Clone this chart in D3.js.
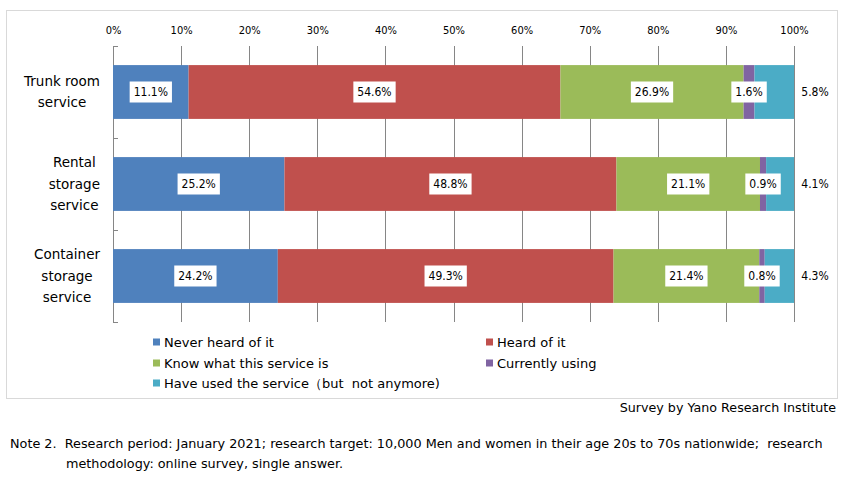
<!DOCTYPE html>
<html><head><meta charset="utf-8">
<script src="https://cdn.jsdelivr.net/npm/d3@7"></script>
<style>
body{margin:0;background:#fff;}
svg text{font-family:"DejaVu Sans",sans-serif;fill:#000;white-space:pre;}
svg text.cond{font-family:"DejaVu Sans Condensed","DejaVu Sans",sans-serif;font-stretch:condensed;}
</style>
</head><body><svg id="c" width="848" height="478"></svg>
<script>
const categories = ["Trunk room service","Rental storage service","Container storage service"];
const categoryLines = [["Trunk room","service"],["Rental","storage","service"],["Container","storage","service"]];
const seriesNames = ["Never heard of it","Heard of it","Know what this service is","Currently using","Have used the service（but  not anymore)"];
const seriesColors = ["#4F81BD","#C0504D","#9BBB59","#8064A2","#4BACC6"];
const neverHeard = [11.1, 25.2, 24.2];
const heardOf = [54.6, 48.8, 49.3];
const knowWhat = [26.9, 21.1, 21.4];
const currentlyUsing = [1.6, 0.9, 0.8];
const usedBefore = [5.8, 4.1, 4.3];
const tickValues = [0,10,20,30,40,50,60,70,80,90,100];
const sourceText = "Survey by Yano Research Institute";
const noteLines = ["Note 2.  Research period: January 2021; research target: 10,000 Men and women in their age 20s to 70s nationwide;  research","methodology: online survey, single answer."];

const seriesValues = [neverHeard, heardOf, knowWhat, currentlyUsing, usedBefore];
const svg = d3.select("#c");

// outer frame
svg.append("rect").attr("x",6.5).attr("y",10.5).attr("width",831).attr("height",388)
  .attr("fill","#fff").attr("stroke","#d9d9d9").attr("stroke-width",1);

const x = d3.scaleLinear().domain([0,100]).range([113,794]);
const y = d3.scaleBand().domain(categories).range([46,322]).paddingInner(0.415).paddingOuter(0.2075);
const yBand = d3.scaleBand().domain(categories).range([46,322]).padding(0);

// gridlines
svg.append("g").selectAll("line").data(tickValues).join("line")
  .attr("x1",d=>Math.round(x(d))+0.5).attr("x2",d=>Math.round(x(d))+0.5)
  .attr("y1",46).attr("y2",322).attr("stroke","#868686").attr("stroke-width",1);

// left axis ticks at band boundaries
const bounds = categories.map(c=>yBand(c)).concat([yBand(categories[2])+yBand.bandwidth()]);
svg.append("g").selectAll("line").data(bounds).join("line")
  .attr("x1",113).attr("x2",118).attr("y1",d=>Math.round(d)+0.5).attr("y2",d=>Math.round(d)+0.5)
  .attr("stroke","#868686");

// top axis labels
const ax = svg.append("g").attr("transform","translate(0,38)")
  .call(d3.axisTop(x).tickValues(tickValues).tickSize(0).tickPadding(4).tickFormat(d=>d+"%"));
ax.select(".domain").remove();
ax.selectAll("text").attr("class","cond").style("font-size","11px");

// stacked data
const rows = categories.map((c,i)=>{
  const vals = seriesValues.map(s=>s[i]);
  const total = d3.sum(vals);
  let acc = 0;
  return vals.map((v,j)=>{const x0=acc/total*100; acc+=v; return {cat:c,series:j,value:v,x0:x0,x1:acc/total*100};});
});

const segs = rows.flat();
svg.append("g").selectAll("rect").data(segs).join("rect")
  .attr("x",d=>x(d.x0)).attr("width",d=>x(d.x1)-x(d.x0))
  .attr("y",d=>y(d.cat)).attr("height",y.bandwidth())
  .attr("fill",d=>seriesColors[d.series]);

// data labels
const lg = svg.append("g");
segs.forEach(d=>{
  const cy = y(d.cat)+y.bandwidth()/2;
  const txt = d.value.toFixed(1)+"%";
  if (d.series===4){
    lg.append("text").attr("class","cond").attr("x",x(100)+21).attr("y",cy).attr("dy","0.35em")
      .attr("text-anchor","middle").style("font-size","12px").text(txt);
  } else {
    const cx = x((d.x0+d.x1)/2);
    const g = lg.append("g");
    const r = g.append("rect").attr("fill","#fff");
    const t = g.append("text").attr("class","cond").attr("x",cx).attr("y",cy).attr("dy","0.35em")
      .attr("text-anchor","middle").style("font-size","12px").text(txt);
    const w = t.node().getComputedTextLength();
    r.attr("x",cx-w/2-4).attr("y",cy-10.5).attr("width",w+8).attr("height",21);
  }
});

// category labels
categories.forEach((c,i)=>{
  const lines = categoryLines[i];
  const cy = y(c)+y.bandwidth()/2;
  const lh = 21.5;
  const g = svg.append("g");
  const ts = lines.map((ln,k)=>g.append("text")
    .attr("y",cy+(k-(lines.length-1)/2)*lh).attr("dy","0.35em")
    .attr("text-anchor","middle").style("font-size","13.5px").text(ln));
  const maxW = d3.max(ts,t=>t.node().getComputedTextLength());
  ts.forEach(t=>t.attr("x",100-maxW/2));
});

// legend
const legPos = [[153,342],[486,342],[153,363],[486,363],[153,383]];
seriesNames.forEach((n,i)=>{
  const [lx,ly] = legPos[i];
  svg.append("rect").attr("x",lx).attr("y",ly-3.5).attr("width",7).attr("height",7).attr("fill",seriesColors[i]);
  svg.append("text").attr("x",lx+11).attr("y",ly).attr("dy","0.35em").style("font-size","13px").text(n);
});

// source
svg.append("text").attr("x",836).attr("y",408).attr("dy","0.35em").attr("text-anchor","end")
  .style("font-size","12.7px").text(sourceText);

// note
svg.append("text").attr("x",10).attr("y",444).attr("dy","0.35em").style("font-size","12.8px").text(noteLines[0]);
svg.append("text").attr("x",66).attr("y",464).attr("dy","0.35em").style("font-size","12.8px").text(noteLines[1]);
</script>
</body></html>
